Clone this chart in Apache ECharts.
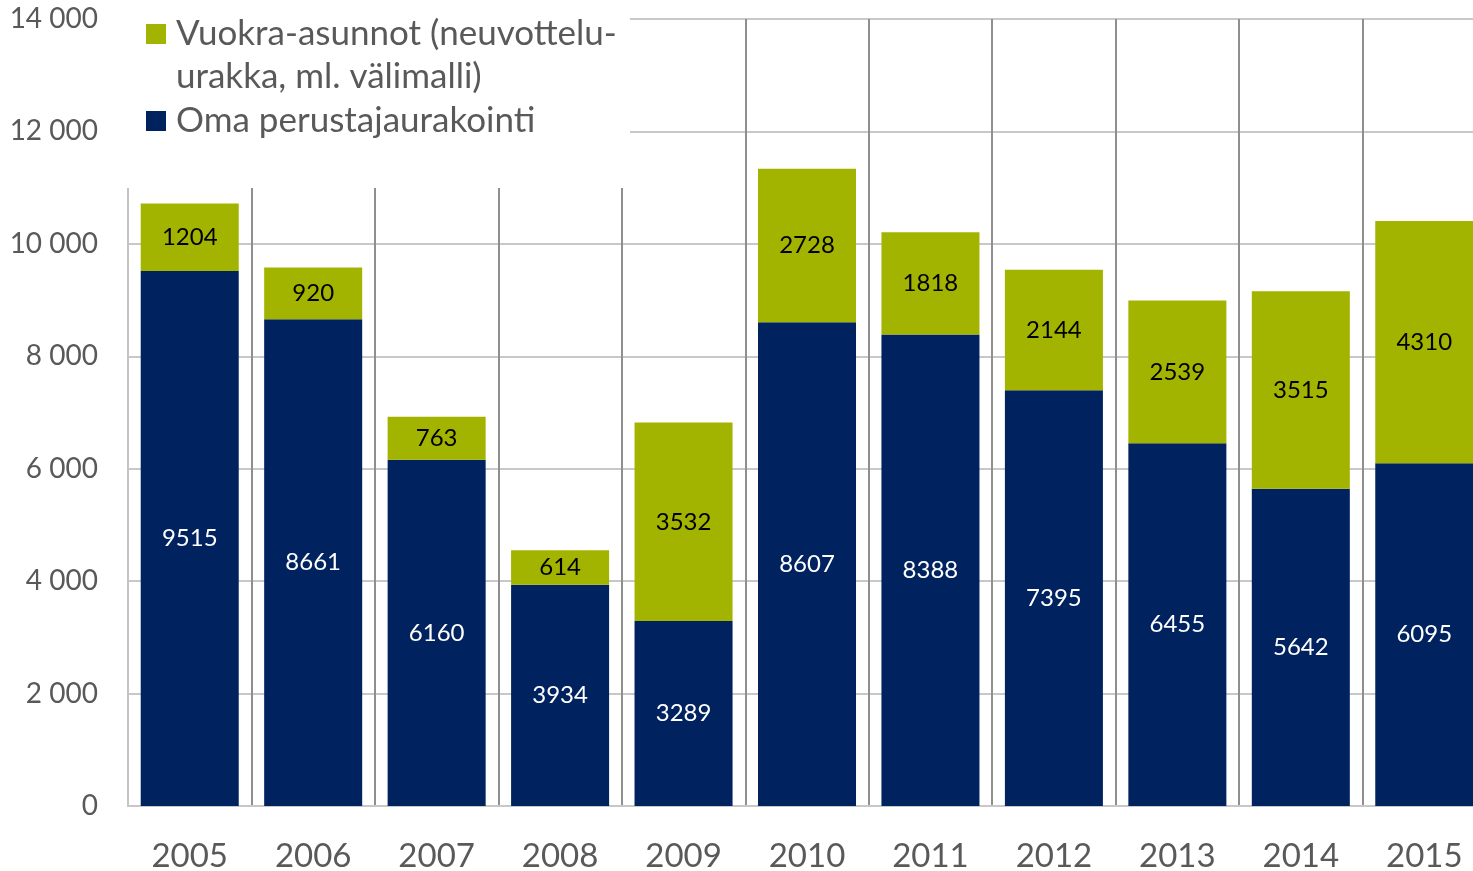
<!DOCTYPE html>
<html>
<head>
<meta charset="utf-8">
<script src="https://cdn.jsdelivr.net/npm/echarts@6/dist/echarts.min.js"></script>
<style>
html,body{margin:0;padding:0;background:#fff;}
#c{width:1473px;height:871px;}
</style>
</head>
<body>
<div id="c"></div>
<script>
const years = ['2005','2006','2007','2008','2009','2010','2011','2012','2013','2014','2015'];
const omaValues = [9515, 8661, 6160, 3934, 3289, 8607, 8388, 7395, 6455, 5642, 6095];
const vuokraValues = [1204, 920, 763, 614, 3532, 2728, 1818, 2144, 2539, 3515, 4310];
const omaName = 'Oma perustajaurakointi';
const vuokraName = 'Vuokra-asunnot (neuvottelu-urakka, ml. välimalli)';
const vuokraLegendText = '\nVuokra-asunnot (neuvottelu-\nurakka, ml. välimalli)';

const FONT = 'Lato';
const chart = echarts.init(document.getElementById('c'));
chart.setOption({
  animation: false,
  backgroundColor: '#ffffff',
  textStyle: { fontFamily: FONT },
  grid: { left: 128, width: 1358, top: 19, height: 787, containLabel: false, outerBoundsMode: 'none' },
  graphic: [{
    type: 'rect', z: 3, silent: true,
    shape: { x: 120, y: 0, width: 510, height: 188 },
    style: { fill: '#ffffff' }
  }],
  legend: [
    {
      data: [vuokraName],
      left: 146, top: -30.5, padding: 0,
      orient: 'vertical', selectedMode: false,
      itemWidth: 20, itemHeight: 20, itemGap: 0, icon: 'rect',
      formatter: () => vuokraLegendText,
      textStyle: { fontFamily: FONT, fontSize: 35, color: '#595959', lineHeight: 43, padding: [0, 0, 0, 5] },
      z: 5
    },
    {
      data: [omaName],
      left: 146, top: 99.5, padding: 0,
      orient: 'vertical', selectedMode: false,
      itemWidth: 20, itemHeight: 20, icon: 'rect',
      textStyle: { fontFamily: FONT, fontSize: 35, color: '#595959', lineHeight: 43, padding: [0, 0, 0, 5] },
      z: 5
    }
  ],
  xAxis: {
    type: 'category', data: years, boundaryGap: true,
    axisLine: { show: true, lineStyle: { color: '#c8c8c8', width: 2 } },
    axisTick: { show: false },
    axisLabel: { fontFamily: FONT, fontSize: 33, color: '#595959', margin: 34 },
    splitLine: { show: true, interval: (i) => i > 0, lineStyle: { color: '#8f8f8f', width: 2 } }
  },
  yAxis: {
    type: 'value', min: 0, max: 14000, interval: 2000,
    axisLine: { show: true, lineStyle: { color: '#c4c4c4', width: 2 } },
    axisTick: { show: false },
    axisLabel: {
      fontFamily: FONT, fontSize: 28, color: '#595959', margin: 30,
      formatter: (v) => String(v).replace(/\B(?=(\d{3})+(?!\d))/g, ' ')
    },
    splitLine: { show: true, lineStyle: { color: '#c8c8c8', width: 2 } }
  },
  series: [
    {
      name: omaName, type: 'bar', stack: 'total', data: omaValues,
      barCategoryGap: '20.6%',
      itemStyle: { color: '#00235f' },
      label: { show: true, position: 'inside', color: '#ffffff', fontFamily: FONT, fontSize: 24 }
    },
    {
      name: vuokraName, type: 'bar', stack: 'total', data: vuokraValues,
      barCategoryGap: '20.6%',
      itemStyle: { color: '#a2b400' },
      label: { show: true, position: 'inside', color: '#000000', fontFamily: FONT, fontSize: 24 }
    }
  ]
});
</script>
</body>
</html>
